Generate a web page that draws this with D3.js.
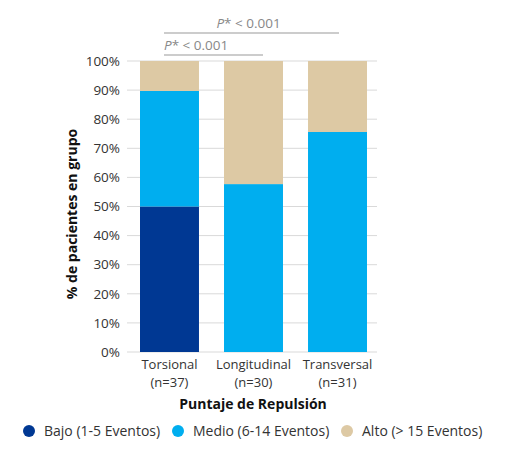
<!doctype html>
<html>
<head>
  <meta charset="utf-8">
  <title>Puntaje de Repulsión</title>
  <style>
    html, body { margin: 0; padding: 0; background: #fff; }
    text { font-family: "Open Sans", sans-serif; fill: #333; }
  </style>
</head>
<body>
  <svg id="chart" width="505" height="453"></svg>

  <script src="https://d3js.org/d3.v7.min.js"></script>
  <script>
    // data
    const categories = ["Torsional", "Longitudinal", "Transversal"];
    const groupSizes = ["(n=37)", "(n=30)", "(n=31)"];
    const seriesNames = ["Bajo (1-5 Eventos)", "Medio (6-14 Eventos)", "Alto (> 15 Eventos)"];
    const bajo = [50, 0, 0];
    const medio = [39.7, 57.7, 75.6];
    const alto = [10.3, 42.3, 24.4];
    const yTicks = [0, 10, 20, 30, 40, 50, 60, 70, 80, 90, 100];
    const pLabels = ["P* < 0.001", "P* < 0.001"];

    const colors = ["#003893", "#00AEEF", "#DDC9A4"];

    const svg = d3.select("#chart");
    const margin = { top: 61, left: 127, right: 128, bottom: 101 };
    const width = 505 - margin.left - margin.right;
    const height = 453 - margin.top - margin.bottom;

    const g = svg.append("g")
        .attr("transform", `translate(${margin.left},${margin.top})`);

    // bars sit a little left of centre inside the grid
    const x = d3.scaleBand()
        .domain(categories)
        .range([13, 240])
        .paddingInner(0.298)
        .paddingOuter(0);

    const y = d3.scaleLinear()
        .domain([0, 100])
        .range([height, 0]);

    // gridlines
    g.selectAll("line.grid")
      .data(yTicks)
      .join("line")
        .attr("class", "grid")
        .attr("x1", 0)
        .attr("x2", width)
        .attr("y1", d => y(d))
        .attr("y2", d => y(d))
        .style("stroke", "#d9d9d9")
        .style("stroke-width", 1);

    // stacked bars
    const rows = categories.map((c, i) => ({ cat: c, bajo: bajo[i], medio: medio[i], alto: alto[i] }));
    const stack = d3.stack().keys(["bajo", "medio", "alto"]);
    const layers = stack(rows);

    g.selectAll("g.layer")
      .data(layers)
      .join("g")
        .attr("class", "layer")
        .style("fill", (d, i) => colors[i])
      .selectAll("rect")
      .data(d => d.filter(p => p[1] - p[0] > 0))
      .join("rect")
        .attr("x", d => x(d.data.cat))
        .attr("width", x.bandwidth())
        .attr("y", d => y(d[1]))
        .attr("height", d => y(d[0]) - y(d[1]));

    // y axis labels
    g.selectAll("text.ytick")
      .data(yTicks)
      .join("text")
        .attr("class", "ytick")
        .attr("x", -7)
        .attr("y", d => y(d))
        .attr("dy", "0.35em")
        .attr("text-anchor", "end")
        .style("font-size", "13.5px")
        .text(d => d + "%");

    // x labels, two lines each
    g.selectAll("text.xtick")
      .data(categories)
      .join("text")
        .attr("class", "xtick")
        .attr("x", d => x(d) + x.bandwidth() / 2)
        .attr("y", height + 17)
        .attr("text-anchor", "middle")
        .style("font-size", "13px")
        .text(d => d);
    g.selectAll("text.xsize")
      .data(groupSizes)
      .join("text")
        .attr("class", "xsize")
        .attr("x", (d, i) => x(categories[i]) + x.bandwidth() / 2)
        .attr("y", height + 35)
        .attr("text-anchor", "middle")
        .style("font-size", "13px")
        .text(d => d);

    // axis titles
    svg.append("text")
        .attr("x", 253)
        .attr("y", 409)
        .attr("text-anchor", "middle")
        .style("font-size", "14px")
        .style("font-weight", "bold")
        .style("fill", "#111")
        .text("Puntaje de Repulsión");

    svg.append("text")
        .attr("transform", "translate(77,214) rotate(-90)")
        .attr("text-anchor", "middle")
        .style("font-size", "14px")
        .style("font-weight", "bold")
        .style("fill", "#111")
        .text("% de pacientes en grupo");

    // significance brackets
    const sig = [
      { x1: x("Torsional") + 24, x2: x("Transversal") + 31, y: 33, anchor: "middle" },
      { x1: x("Torsional") + 24, x2: x("Longitudinal") + 39, y: 55, anchor: "start" }
    ];
    sig.forEach((s, i) => {
      g.append("line")
          .attr("x1", s.x1).attr("x2", s.x2)
          .attr("y1", s.y - margin.top).attr("y2", s.y - margin.top)
          .style("stroke", "#999")
          .style("stroke-width", 1.2);
      const t = g.append("text")
          .attr("x", s.anchor === "middle" ? (s.x1 + s.x2) / 2 - 3 : s.x1)
          .attr("y", s.y - margin.top - 5)
          .attr("text-anchor", s.anchor)
          .style("font-size", "13.5px")
          .style("fill", "#888");
      t.append("tspan").style("font-style", "italic").style("fill", "#888").text("P");
      t.append("tspan").style("fill", "#888").text(pLabels[i].slice(1));
    });

    // legend
    const legendX = [29, 178, 347];
    const legend = svg.selectAll("g.legend")
      .data(seriesNames)
      .join("g")
        .attr("class", "legend")
        .attr("transform", (d, i) => `translate(${legendX[i]},431)`);
    legend.append("circle")
        .attr("r", 6)
        .style("fill", (d, i) => colors[i]);
    legend.append("text")
        .attr("x", 15)
        .attr("dy", "0.35em")
        .style("font-size", "14px")
        .text(d => d);
  </script>
</body>
</html>
